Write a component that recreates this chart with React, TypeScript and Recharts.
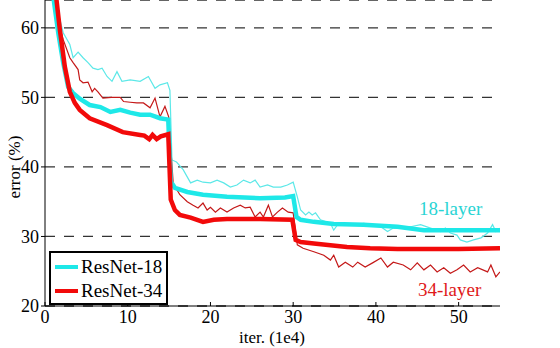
import { LineChart, Line, XAxis, YAxis, CartesianGrid } from 'recharts'

const xTicks = [0, 10, 20, 30, 40, 50]
const yTicks = [20, 30, 40, 50, 60]

// ResNet-18 training error (thin cyan)
const r18TrainX = [1.0, 2.2, 3.0, 3.4, 4.0, 4.6, 5.2, 5.8, 6.4, 6.9, 7.5, 8.1, 8.7, 9.3, 10.3, 11.5, 12.5, 13.3, 13.9, 14.8, 15.1, 15.35, 15.9, 16.7, 17.6, 18.4, 19.1, 20.0, 20.8, 21.6, 22.4, 23.2, 24.0, 24.8, 25.4, 26.0, 26.9, 27.6, 28.5, 29.3, 30.0, 30.5, 30.9, 31.5, 31.9, 32.3, 32.7, 33.3, 34.5, 34.9, 35.5, 36.5, 37.8, 38.5, 39.7, 40.6, 41.4, 42.1, 43.0, 44.2, 45.4, 46.6, 47.8, 48.4, 49.0, 49.8, 50.2, 51.0, 51.8, 52.7, 53.5, 54.1, 54.5, 55.0]
const r18TrainY = [65, 59.3, 57.6, 55.7, 56.5, 55.7, 55.0, 54.2, 54.0, 54.2, 53.0, 52.3, 53.7, 52.3, 52.5, 52.3, 53.0, 51.3, 51.8, 52.1, 51.0, 41.0, 40.7, 39.6, 37.7, 38.1, 37.8, 37.7, 38.1, 37.7, 37.1, 37.4, 38.1, 37.7, 38.1, 37.1, 37.4, 37.1, 37.1, 37.4, 37.8, 35.7, 33.8, 33.1, 33.5, 33.1, 33.4, 32.4, 31.9, 30.9, 31.9, 31.9, 31.7, 31.9, 31.7, 31.4, 30.7, 31.2, 31.2, 31.4, 31.7, 31.2, 30.7, 31.2, 30.5, 30.2, 29.5, 29.2, 29.5, 29.8, 30.5, 31.7, 30.7, 31.2]

// ResNet-34 training error (thin red)
const r34TrainX = [1.2, 1.8, 2.2, 3.0, 3.4, 4.0, 4.2, 4.6, 5.2, 5.7, 6.0, 6.4, 7.0, 8.0, 9.1, 9.5, 10.3, 11.1, 11.9, 12.7, 13.3, 13.9, 14.5, 14.95, 15.5, 16.3, 17.2, 17.9, 18.5, 19.1, 19.6, 20.0, 20.6, 21.2, 22.0, 22.8, 23.6, 24.2, 24.8, 25.4, 26.0, 26.4, 27.0, 27.5, 28.1, 28.7, 29.4, 30.0, 30.5, 31.2, 32.5, 33.7, 34.5, 34.9, 35.5, 36.3, 37.2, 37.8, 38.7, 39.6, 40.6, 41.4, 42.1, 43.3, 44.2, 45.0, 45.8, 46.6, 47.4, 48.2, 49.0, 49.8, 50.6, 51.4, 52.3, 53.5, 53.9, 54.5, 55.0]
const r34TrainY = [66, 60.0, 58.3, 55.7, 55.0, 54.0, 52.5, 52.1, 52.2, 50.8, 51.3, 50.8, 49.9, 50.0, 50.0, 49.4, 49.3, 49.2, 49.2, 48.5, 49.9, 47.2, 48.7, 47.2, 37.6, 36.0, 35.0, 34.5, 34.1, 34.8, 33.8, 34.2, 33.5, 34.1, 33.5, 34.1, 34.5, 34.1, 34.2, 32.8, 33.5, 32.8, 34.5, 32.8, 33.5, 34.1, 33.5, 33.4, 28.8, 28.3, 27.8, 27.3, 26.6, 27.3, 25.6, 26.3, 25.6, 26.3, 25.6, 26.2, 26.9, 25.6, 26.3, 25.9, 25.2, 26.2, 25.2, 25.9, 24.9, 25.5, 24.7, 25.2, 25.9, 24.9, 25.5, 24.9, 25.9, 24.2, 24.9]

// ResNet-18 validation error (thick cyan)
const r18ValX = [1.0, 1.6, 2.2, 2.8, 3.4, 4.2, 5.4, 6.7, 7.9, 9.1, 10.3, 11.5, 12.7, 13.9, 14.9, 15.2, 15.7, 17.2, 19.1, 22.0, 26.0, 29.0, 30.0, 30.4, 30.9, 32.5, 34.9, 38.5, 42.6, 45.8, 49.8, 55.0]
const r18ValY = [64.5, 59.3, 55.0, 51.5, 50.6, 49.8, 48.9, 48.6, 47.9, 48.2, 47.8, 47.5, 47.5, 47.0, 46.8, 37.9, 37.0, 36.4, 36.0, 35.7, 35.5, 35.6, 35.8, 32.8, 32.4, 32.1, 31.8, 31.7, 31.4, 30.9, 30.9, 30.9]

// ResNet-34 validation error (thick red)
const r34ValX = [1.2, 1.8, 2.4, 3.0, 3.6, 4.2, 5.4, 7.5, 9.4, 11.5, 12.0, 12.6, 13.0, 13.5, 14.0, 14.9, 15.2, 15.7, 16.3, 17.6, 19.1, 20.4, 22.0, 26.0, 29.9, 30.3, 30.9, 32.5, 36.5, 39.3, 42.6, 46.0, 50.0, 55.0]
const r34ValY = [66, 59.7, 54.4, 50.8, 49.2, 48.2, 47.0, 46.0, 45.0, 44.6, 44.5, 44.0, 44.6, 44.0, 44.4, 44.7, 35.3, 33.8, 33.1, 32.7, 32.1, 32.4, 32.5, 32.5, 32.4, 29.5, 29.2, 29.0, 28.5, 28.3, 28.2, 28.2, 28.2, 28.3]

const zip = (xs: number[], ys: number[]) => xs.map((x, i) => ({ x, y: ys[i] }))

const FONT = 'Liberation Serif'
const CYAN = '#1ee8e8'
const CYAN_THIN = '#5ce8e8'
const RED = '#f20a0a'
const RED_THIN = '#c41818'

export default function App() {
  return (
    <div style={{ position: 'absolute', left: 0, top: 0, width: 560, height: 348, background: '#fff', fontFamily: FONT }}>
      <LineChart width={560} height={348} margin={{ top: 0, right: 60, bottom: 0, left: 0 }} style={{ fontFamily: FONT }}>
        <CartesianGrid vertical={false} stroke="#333" strokeWidth={1.3} strokeDasharray="10 9" />
        <XAxis
          type="number"
          dataKey="x"
          domain={[0, 55]}
          ticks={xTicks}
          height={42}
          stroke="#000"
          tickSize={-4}
          tickMargin={8}
          tick={{ fill: '#000', fontSize: 18, fontFamily: FONT }}
          allowDataOverflow
        />
        <YAxis
          type="number"
          dataKey="y"
          domain={[20, 64]}
          ticks={yTicks}
          width={45}
          stroke="#000"
          tickSize={4}
          tickMargin={2}
          tick={{ fill: '#000', fontSize: 18, fontFamily: FONT }}
          allowDataOverflow
        />
        <Line data={zip(r18TrainX, r18TrainY)} dataKey="y" stroke={CYAN_THIN} strokeWidth={1.2} dot={false} isAnimationActive={false} />
        <Line data={zip(r34TrainX, r34TrainY)} dataKey="y" stroke={RED_THIN} strokeWidth={1.2} dot={false} isAnimationActive={false} />
        <Line data={zip(r18ValX, r18ValY)} dataKey="y" stroke={CYAN} strokeWidth={4.5} dot={false} isAnimationActive={false} />
        <Line data={zip(r34ValX, r34ValY)} dataKey="y" stroke={RED} strokeWidth={4.5} dot={false} isAnimationActive={false} />
      </LineChart>

      <div style={{ position: 'absolute', left: 15, top: 167, transform: 'translate(-50%, -50%) rotate(-90deg)', fontSize: 17, whiteSpace: 'nowrap' }}>
        error (%)
      </div>
      <div style={{ position: 'absolute', left: 272, top: 338, transform: 'translate(-50%, -50%)', fontSize: 17, whiteSpace: 'nowrap' }}>
        iter. (1e4)
      </div>

      <div style={{ position: 'absolute', left: 419, top: 198, fontSize: 19, color: '#2ad4d4', lineHeight: '22px' }}>18-layer</div>
      <div style={{ position: 'absolute', left: 418, top: 279, fontSize: 19, color: '#e01a1a', lineHeight: '22px' }}>34-layer</div>

      <div style={{ position: 'absolute', left: 49, top: 251, width: 115, height: 50, border: '2px solid #000', background: '#fff' }}>
        <div style={{ display: 'flex', alignItems: 'center', height: 24, marginTop: 2 }}>
          <span style={{ display: 'inline-block', width: 23, height: 4, background: CYAN, marginLeft: 4, marginRight: 3 }} />
          <span style={{ fontSize: 19 }}>ResNet-18</span>
        </div>
        <div style={{ display: 'flex', alignItems: 'center', height: 24 }}>
          <span style={{ display: 'inline-block', width: 23, height: 4, background: RED, marginLeft: 4, marginRight: 3 }} />
          <span style={{ fontSize: 19 }}>ResNet-34</span>
        </div>
      </div>
    </div>
  )
}
